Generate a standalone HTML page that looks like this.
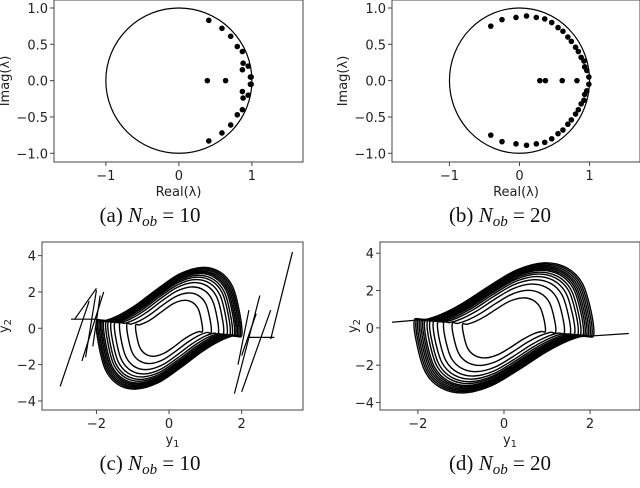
<!DOCTYPE html>
<html><head><meta charset="utf-8"><style>
body{margin:0;background:#fff;width:640px;height:483px;overflow:hidden}
svg text{font-family:"DejaVu Sans","Liberation Sans",sans-serif;font-size:13px;fill:#222}
.cap{font-family:"Liberation Serif","DejaVu Serif",serif;font-size:21px;fill:#111}
</style></head><body>
<svg id="s" width="640" height="483"></svg>
<script>
// eigenvalues panel (a)
const eigA_re=[0.41,0.59,0.71,0.80,0.87,0.88,0.95,0.87,0.98,0.99];
const eigA_im=[0.83,0.72,0.61,0.47,0.40,0.24,0.20,0.15,0.05,0.05];
const eigA_real=[0.39,0.64];
// eigenvalues panel (b)
const eigB_re=[-0.41,-0.25,-0.05,0.10,0.24,0.36,0.46,0.55,0.62,0.69,0.74,0.80,0.84,0.88,0.92,0.93,0.96,0.99];
const eigB_im=[0.75,0.84,0.87,0.89,0.87,0.85,0.80,0.73,0.68,0.60,0.54,0.46,0.40,0.32,0.27,0.19,0.14,0.05];
const eigB_real=[0.29,0.37,0.61,0.82];
// phase portrait base cycle (half; other half mirrored through origin)
const cycY1=[-2.0,-1.95,-1.75,-1.4,-0.9,-0.3,0.3,0.9,1.4,1.8];
const cycY2=[0.4,-0.8,-2.3,-3.1,-3.35,-3.0,-2.2,-1.3,-0.7,-0.4];
const loopScalesC=[1.0,0.98,0.96,0.94,0.92,0.9,0.87,0.84,0.8,0.75,0.68,0.58,0.46];
const loopScalesD=[1.04,1.02,1.0,0.98,0.96,0.94,0.92,0.89,0.86,0.82,0.77,0.7,0.6,0.48];
const spikesC=[[-3.0,-3.2,-2.2,1.5],[-2.6,0.5,-2.0,2.2],[-2.4,-1.8,-1.8,2.0],[-2.3,-1.6,-2.0,2.1],[-2.1,-1.0,-1.9,1.8],[-2.7,0.5,-2.0,0.5],
  [1.8,-3.6,2.5,1.8],[2.0,-3.5,2.8,1.0],[1.9,-2.0,2.2,1.0],[2.0,-1.5,2.4,0.8],[2.8,-0.6,3.4,4.2],[2.2,-0.5,2.9,-0.5]];
const tailsD=[[-2.6,0.3,-1.6,0.5],[1.6,-0.5,2.9,-0.3]];
const xt=[-1,0,1], yt=[-1.0,-0.5,0.0,0.5,1.0], pt=[-2,0,2], pyt=[-4,-2,0,2,4];

const S=document.getElementById('s'),NS='http://www.w3.org/2000/svg';
function mk(t,a,p){const e=document.createElementNS(NS,t);for(const k in a)e.setAttribute(k,a[k]);(p||S).appendChild(e);return e;}
function panel(o){
  const g=mk('g',{});
  
  
  const X=v=>o.x0+(v-o.xmin)/(o.xmax-o.xmin)*(o.x1-o.x0);
  const Y=v=>o.y1-(v-o.ymin)/(o.ymax-o.ymin)*(o.y1-o.y0);
  const r=mk('rect',{x:o.x0,y:o.y0,width:o.x1-o.x0,height:o.y1-o.y0,fill:'none',stroke:'#444','stroke-width':1},g);
  
  
  o.xt.forEach(v=>{mk('line',{x1:X(v),x2:X(v),y1:o.y1,y2:o.y1+4,stroke:'#444'},g);
    const t=mk('text',{x:X(v),y:o.y1+18,'text-anchor':'middle'},g);t.textContent=String(v).replace('-','\u2212');
    });
  o.yt.forEach(v=>{mk('line',{x1:o.x0-4,x2:o.x0,y1:Y(v),y2:Y(v),stroke:'#444'},g);
    const t=mk('text',{x:o.x0-6,y:Y(v)+5,'text-anchor':'end'},g);t.textContent=(o.yd?v.toFixed(1):String(v)).replace('-','\u2212');
    });
  const xl=mk('text',{x:(o.x0+o.x1)/2,y:o.y1+34,'text-anchor':'middle'},g);xl.innerHTML=o.xl;
  
  const yx=o.ylx,yy=(o.y0+o.y1)/2;
  const yl=mk('text',{x:yx,y:yy,'text-anchor':'middle',transform:`rotate(-90 ${yx} ${yy})`},g);yl.innerHTML=o.yl;
  
  const cp=mk('clipPath',{id:o.name+'c'},g);mk('rect',{x:o.x0,y:o.y0,width:o.x1-o.x0,height:o.y1-o.y0},cp);
  const inner=mk('g',{'clip-path':`url(#${o.name}c)`},g);
  return {X,Y,g:inner};
}
function eig(o,re,im,real){
  const p=panel(o);
  const c=mk('ellipse',{cx:p.X(0),cy:p.Y(0),rx:p.X(1)-p.X(0),ry:p.Y(0)-p.Y(1),fill:'none',stroke:'#000','stroke-width':1.2},p.g);
  
  re.forEach((v,i)=>[1,-1].forEach(sg=>{const d=mk('circle',{cx:p.X(v),cy:p.Y(sg*im[i]),r:2.8,fill:'#000'},p.g);
    }));
  real.forEach(v=>{const d=mk('circle',{cx:p.X(v),cy:p.Y(0),r:2.8,fill:'#000'},p.g);
    });
}
function phase(o,scales,segs,sw){
  const p=panel(o);
  const bx=cycY1.concat(cycY1.map(v=>-v)), by=cycY2.concat(cycY2.map(v=>-v));
  scales.forEach(s=>{
    const pts=bx.map((v,i)=>[p.X(v*s),p.Y(by[i]*s)]);const n=pts.length;
    let d='M'+pts[0][0].toFixed(1)+' '+pts[0][1].toFixed(1);
    for(let i=0;i<n;i++){const p0=pts[(i-1+n)%n],p1=pts[i],p2=pts[(i+1)%n],p3=pts[(i+2)%n];
      const c1=[p1[0]+(p2[0]-p0[0])/6,p1[1]+(p2[1]-p0[1])/6],c2=[p2[0]-(p3[0]-p1[0])/6,p2[1]-(p3[1]-p1[1])/6];
      d+=`C${c1[0].toFixed(1)} ${c1[1].toFixed(1)} ${c2[0].toFixed(1)} ${c2[1].toFixed(1)} ${p2[0].toFixed(1)} ${p2[1].toFixed(1)}`;}
    const e=mk('path',{d,fill:'none',stroke:'#000','stroke-width':sw},p.g);
    
  });
  segs.forEach(q=>{const e=mk('line',{x1:p.X(q[0]),y1:p.Y(q[1]),x2:p.X(q[2]),y2:p.Y(q[3]),stroke:'#000','stroke-width':1.2},p.g);
    });
}
eig({name:'panel-a',x0:54,x1:303,y0:0,y1:162,xmin:-1.71,xmax:1.70,ymin:-1.12,ymax:1.11,xt,yt,yd:1,xl:'Real(λ)',yl:'Imag(λ)',ylx:9},eigA_re,eigA_im,eigA_real);
eig({name:'panel-b',x0:392,x1:640,y0:0,y1:162,xmin:-1.82,xmax:1.72,ymin:-1.12,ymax:1.11,xt,yt,yd:1,xl:'Real(λ)',yl:'Imag(λ)',ylx:347},eigB_re,eigB_im,eigB_real);
phase({name:'panel-c',x0:42,x1:303,y0:242,y1:410,xmin:-3.5,xmax:3.69,ymin:-4.5,ymax:4.75,xt:pt,yt:pyt,xl:'y<tspan font-size="10" dy="3">1</tspan>',yl:'y<tspan font-size="10" dy="3">2</tspan>',ylx:8},loopScalesC,spikesC,1.4);
phase({name:'panel-d',x0:380,x1:640,y0:242,y1:410,xmin:-2.88,xmax:3.16,ymin:-4.4,ymax:4.6,xt:pt,yt:pyt,xl:'y<tspan font-size="10" dy="3">1</tspan>',yl:'y<tspan font-size="10" dy="3">2</tspan>',ylx:357},loopScalesD,tailsD,1.4);
[['(a)','10',150,222],['(b)','20',500,222],['(c)','10',150,470],['(d)','20',500,470]].forEach(c=>{
  const t=mk('text',{x:c[2],y:c[3],'text-anchor':'middle',class:'cap'});
  t.innerHTML=`${c[0]} <tspan font-style="italic">N</tspan><tspan font-style="italic" font-size="15" dy="4">ob</tspan><tspan dy="-4"> = ${c[1]}</tspan>`;
  
  
});
</script>
</body></html>
